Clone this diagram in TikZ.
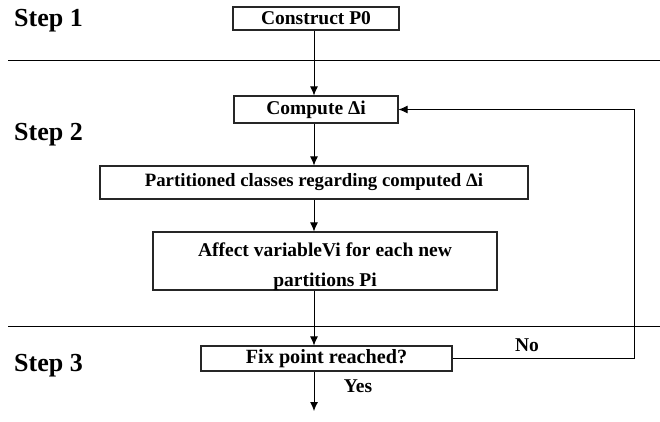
\documentclass[tikz,border=0pt]{standalone}
\usepackage{fontspec}
\setmainfont{Liberation Serif}
\usetikzlibrary{arrows.meta}
\begin{document}
\begin{tikzpicture}[x=1pt,y=-1pt,
  box/.style={draw=black!85, line width=1.1pt, inner sep=0pt, align=center,
    font=\fontsize{19.5}{30}\selectfont\bfseries},
  steplabel/.style={anchor=west, inner sep=0pt, font=\fontsize{26}{30}\selectfont\bfseries},
  txt/.style={inner sep=0pt, font=\fontsize{19.5}{30}\selectfont\bfseries},
  arr/.style={line width=0.9pt, -{Latex[length=9pt,width=8pt]}},
  sep/.style={line width=0.9pt}]
\useasboundingbox (0,0) rectangle (660,421);

% stage labels
\node[steplabel] (s1) at (14,21) {Step 1};
\node[steplabel] (s2) at (14,135) {Step 2};
\node[steplabel] (s3) at (14,366) {Step 3};

% stage separators
\coordinate (l1a) at (8,60);  \coordinate (l1b) at (660,60);
\coordinate (l2a) at (8,326); \coordinate (l2b) at (660,326);
\draw[sep] (l1a) -- (l1b);
\draw[sep] (l2a) -- (l2b);

% process boxes
\node[box, minimum width=166pt, minimum height=23pt] (construct) at (316,18.5) {Construct P0};
\node[box, minimum width=164pt, minimum height=27pt] (compute) at (316,109.5) {Compute Δi};
\node[box, minimum width=428pt, minimum height=33pt,
      font=\fontsize{18.8}{30}\selectfont\bfseries] (part) at (314,182.5) {Partitioned classes regarding computed Δi};
\node[box, minimum width=344pt, minimum height=58pt] (affect) at (325,261) {};
\node[txt, align=center] (affecttxt) at (325,267) {Affect variableVi for each new\\partitions Pi};
\node[box, minimum width=251pt, minimum height=25pt,
      font=\fontsize{20.2}{30}\selectfont\bfseries] (fix) at (326.5,358.5) {Fix point reached?};

% main flow column
\coordinate (axis) at (314,0);
\coordinate (out) at (314,411);
\coordinate (turn) at (634,358.5);

\draw[arr] (construct.south -| axis) -- (compute.north -| axis);
\draw[arr] (compute.south -| axis) -- (part.north -| axis);
\draw[arr] (part.south -| axis) -- (affect.north -| axis);
\draw[arr] (affect.south -| axis) -- (fix.north -| axis);
\draw[arr] (fix.south -| axis) -- (out);

% loop back when no fix point
\draw[arr] (fix.east) -- (turn) |- (compute.east);

\node[txt] (no) at (527,345) {No};
\node[txt] (yes) at (358,386) {Yes};
\end{tikzpicture}
\end{document}
